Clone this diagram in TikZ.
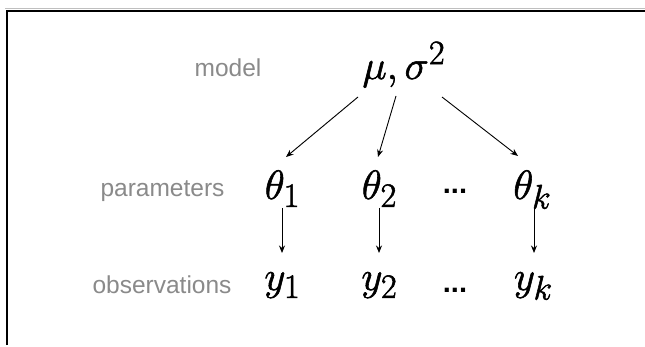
\documentclass[tikz,border=0pt]{standalone}
\usepackage{fontspec}
\setsansfont{Liberation Sans}
\usetikzlibrary{arrows.meta,calc}
\definecolor{labelgray}{HTML}{8A8A8A}
\newcommand{\heavytext}[1]{\special{pdf:literal direct 2 Tr 0.35 w}#1\special{pdf:literal direct 0 Tr}}
\begin{document}
\begin{tikzpicture}[x=1pt,y=-1pt,
  lbl/.style={font=\sffamily\fontsize{24.5}{28}\selectfont, text=labelgray, anchor=base, inner sep=0pt},
  mth/.style={font=\Huge, scale=1.648, anchor=base, inner sep=0pt},
  dotsn/.style={font=\sffamily\bfseries\fontsize{29}{32}\selectfont, anchor=base, inner sep=0pt},
  conn/.style={-{Stealth[length=7.5pt,width=6pt]}, line width=0.9pt}]
\useasboundingbox (0,0) rectangle (645,347);
\fill[white] (0,0) rectangle (645,347);
% frame
\draw[black!25, line width=0.8pt] (5,8.3) -- (645,8.3);
\draw[black, line width=2pt] (6.5,345) -- (6.5,10.8) -- (645,10.8);
% labels
\node[lbl] (lmodel) at (228,77) {model};
\node[lbl] (lparam) at (162.5,197) {parameters};
\node[lbl] (lobs) at (162,294) {observations};
% math nodes
\node[mth] (mu) at (404,79) {\heavytext{$\mu,\sigma^2$}};
\node[mth] (t1) at (282.5,199) {\heavytext{$\theta_1$}};
\node[mth] (t2) at (379.5,199) {\heavytext{$\theta_2$}};
\node[dotsn] (td) at (455,194) {...};
\node[mth] (tk) at (532.5,199) {\heavytext{$\theta_k$}};
\node[mth] (y1) at (282.5,290) {\heavytext{$y_1$}};
\node[mth] (y2) at (379.5,290) {\heavytext{$y_2$}};
\node[dotsn] (yd) at (455,292) {...};
\node[mth] (yk) at (533.5,290) {\heavytext{$y_k$}};
% connectors
\draw[conn] ($(mu.base)+(-46,18)$) -- ($(t1.base)+(3.5,-42)$);
\draw[conn] ($(mu.base)+(-8,17)$) -- ($(t2.base)+(-1.5,-42)$);
\draw[conn] ($(mu.base)+(38,18)$) -- ($(tk.base)+(-14.5,-43)$);
\draw[conn] ($(t1.base)+(-0.5,9)$) -- ($(y1.base)+(-0.5,-37)$);
\draw[conn] ($(t2.base)+(-0.5,9)$) -- ($(y2.base)+(-0.5,-37)$);
\draw[conn] ($(tk.base)+(1.5,9)$) -- ($(yk.base)+(0.5,-37)$);
\end{tikzpicture}
\end{document}
